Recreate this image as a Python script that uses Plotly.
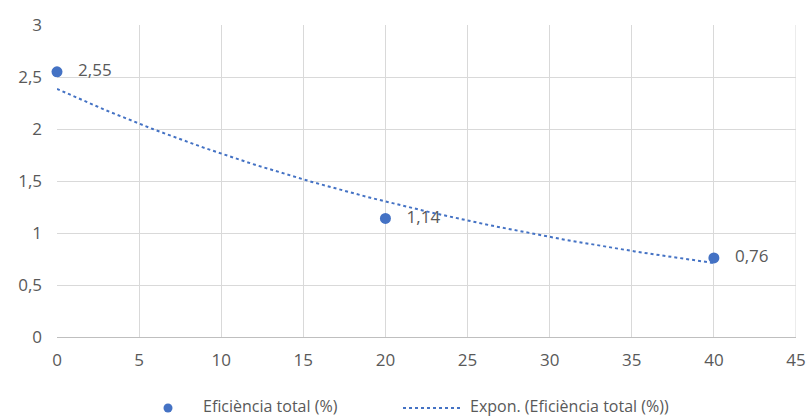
import numpy as np
import plotly.graph_objects as go

# Measured points
x_vals = [0, 20, 40]
y_vals = [2.55, 1.14, 0.76]
series_name = "Eficiència total (%)"
trend_name = "Expon. (Eficiència total (%))"

# Exponential trendline y = a * exp(b x), least squares on ln(y)
b, ln_a = np.polyfit(x_vals, np.log(y_vals), 1)
x_fit = np.linspace(min(x_vals), max(x_vals), 200)
y_fit = np.exp(ln_a) * np.exp(b * x_fit)

blue = "#4472C4"
grey_text = "#595959"
font_family = "Open Sans, Noto Sans, sans-serif"
W, H = 808, 418
M = dict(l=57, r=12, t=25, b=81)
pw, ph = W - M["l"] - M["r"], H - M["t"] - M["b"]


def px2paper(px, py):
    return (px - M["l"]) / pw, (H - M["b"] - py) / ph


fig = go.Figure()
fig.add_trace(go.Scatter(
    x=x_vals, y=y_vals, mode="markers+text", name=series_name,
    marker=dict(color=blue, size=11),
    texttemplate="   %{y:.2f}", textposition="middle right",
    textfont=dict(color=grey_text, size=17, family=font_family),
    cliponaxis=False, showlegend=False,
))
fig.add_trace(go.Scatter(
    x=x_fit, y=y_fit, mode="lines", name=trend_name,
    line=dict(color=blue, width=2, dash="dot"),
    hoverinfo="skip", showlegend=False,
))

# Legend drawn below the plot area
legend_y = 406
mx, my = px2paper(168, legend_y + 2)
rx, ry = 4.5 / pw, 4.5 / ph
fig.add_shape(type="circle", xref="paper", yref="paper",
              x0=mx - rx, x1=mx + rx, y0=my - ry, y1=my + ry,
              fillcolor=blue, line=dict(width=0))
_, ty = px2paper(0, legend_y)
fig.add_annotation(xref="paper", yref="paper", x=px2paper(201, 0)[0], y=ty,
                   text=series_name, showarrow=False, xanchor="left",
                   yanchor="middle", font=dict(size=16, color=grey_text))
lx0, _ = px2paper(403, 0)
lx1, _ = px2paper(462, 0)
fig.add_shape(type="line", xref="paper", yref="paper",
              x0=lx0, x1=lx1, y0=my, y1=my,
              line=dict(color=blue, width=2, dash="dot"))
fig.add_annotation(xref="paper", yref="paper", x=px2paper(468, 0)[0], y=ty,
                   text=trend_name, showarrow=False, xanchor="left",
                   yanchor="middle", font=dict(size=16, color=grey_text))

fig.update_layout(
    width=W, height=H,
    margin=dict(**M, autoexpand=False),
    paper_bgcolor="white", plot_bgcolor="white",
    separators=",.",
    font=dict(family=font_family, color=grey_text, size=17),
    showlegend=False,
)
fig.update_xaxes(range=[0, 45], dtick=5, showgrid=True, gridcolor="#D9D9D9",
                 zeroline=False, showline=True, linecolor="#BFBFBF",
                 ticks="", ticklabelstandoff=8, automargin=False)
fig.update_yaxes(range=[0, 3], dtick=0.5, showgrid=True, gridcolor="#D9D9D9",
                 zeroline=False, showline=False, ticks="",
                 ticklabelstandoff=14, automargin=False)
# right border of plotting area (last vertical gridline at 45)
fig.add_shape(type="line", xref="x", yref="y", x0=45, x1=45, y0=0, y1=3,
              line=dict(color="#D9D9D9", width=1), layer="below")

fig.write_html("out.html")
